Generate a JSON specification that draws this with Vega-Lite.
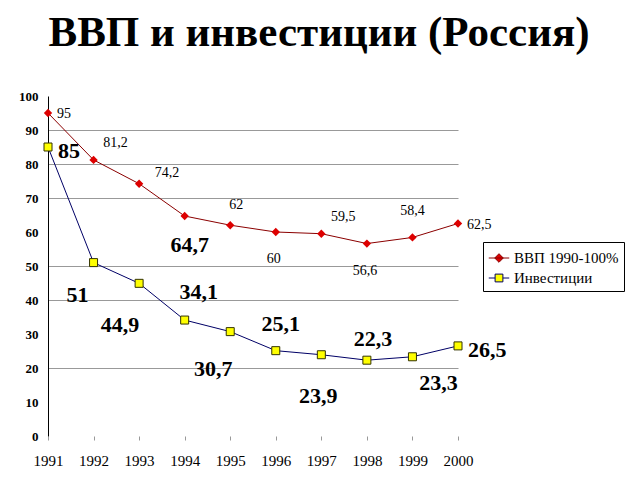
{
  "$schema": "https://vega.github.io/schema/vega-lite/v6.json",
  "autosize": "none",
  "width": 410,
  "height": 340,
  "padding": {"left": 48, "top": 96, "right": 182, "bottom": 44},
  "background": "#ffffff",
  "title": {
    "text": "ВВП и инвестиции (Россия)",
    "font": "Liberation Serif",
    "fontSize": 43,
    "fontWeight": "bold",
    "color": "#000000",
    "anchor": "middle",
    "dx": 66,
    "offset": 35
  },
  "config": {"view": {"stroke": null}, "font": "Liberation Serif"},
  "data": {
    "values": [
      {"year": 1991, "series": "ВВП 1990-100%", "value": 95, "label": "95"},
      {"year": 1992, "series": "ВВП 1990-100%", "value": 81.2, "label": "81,2"},
      {"year": 1993, "series": "ВВП 1990-100%", "value": 74.2, "label": "74,2"},
      {"year": 1994, "series": "ВВП 1990-100%", "value": 64.7, "label": "64,7"},
      {"year": 1995, "series": "ВВП 1990-100%", "value": 62, "label": "62"},
      {"year": 1996, "series": "ВВП 1990-100%", "value": 60, "label": "60"},
      {"year": 1997, "series": "ВВП 1990-100%", "value": 59.5, "label": "59,5"},
      {"year": 1998, "series": "ВВП 1990-100%", "value": 56.6, "label": "56,6"},
      {"year": 1999, "series": "ВВП 1990-100%", "value": 58.4, "label": "58,4"},
      {"year": 2000, "series": "ВВП 1990-100%", "value": 62.5, "label": "62,5"},
      {"year": 1991, "series": "Инвестиции", "value": 85, "label": "85"},
      {"year": 1992, "series": "Инвестиции", "value": 51, "label": "51"},
      {"year": 1993, "series": "Инвестиции", "value": 44.9, "label": "44,9"},
      {"year": 1994, "series": "Инвестиции", "value": 34.1, "label": "34,1"},
      {"year": 1995, "series": "Инвестиции", "value": 30.7, "label": "30,7"},
      {"year": 1996, "series": "Инвестиции", "value": 25.1, "label": "25,1"},
      {"year": 1997, "series": "Инвестиции", "value": 23.9, "label": "23,9"},
      {"year": 1998, "series": "Инвестиции", "value": 22.3, "label": "22,3"},
      {"year": 1999, "series": "Инвестиции", "value": 23.3, "label": "23,3"},
      {"year": 2000, "series": "Инвестиции", "value": 26.5, "label": "26,5"}
    ]
  },
  "encoding": {
    "x": {
      "field": "year",
      "type": "quantitative",
      "scale": {"domain": [1991, 2000], "nice": false, "zero": false},
      "axis": {
        "title": null,
        "values": [1991, 1992, 1993, 1994, 1995, 1996, 1997, 1998, 1999, 2000],
        "format": "d",
        "domain": false,
        "grid": false,
        "ticks": true,
        "tickColor": "#999999",
        "tickSize": 4,
        "labelPadding": 13,
        "labelFlush": false,
        "labelOverlap": false,
        "labelFont": "Liberation Serif",
        "labelFontSize": 15,
        "labelColor": "#000000"
      }
    },
    "y": {
      "field": "value",
      "type": "quantitative",
      "scale": {"domain": [0, 100], "nice": false},
      "axis": {
        "title": null,
        "values": [0, 10, 20, 30, 40, 50, 60, 70, 80, 90, 100],
        "domain": true,
        "domainColor": "#000000",
        "domainWidth": 1,
        "ticks": false,
        "labelPadding": 10,
        "labelFlush": false,
        "labelFont": "Liberation Serif",
        "labelFontSize": 13,
        "labelFontWeight": "bold",
        "labelColor": "#000000",
        "grid": true,
        "gridColor": "#999999",
        "gridWidth": 1,
        "gridOpacity": {"condition": {"test": "indexof([20,40,50,70,80,90], datum.value) >= 0", "value": 1}, "value": 0}
      }
    }
  },
  "layer": [
    {
      "mark": {"type": "line", "strokeWidth": 1},
      "encoding": {
        "color": {
          "field": "series",
          "type": "nominal",
          "scale": {"domain": ["ВВП 1990-100%", "Инвестиции"], "range": ["#8b0000", "#000066"]},
          "legend": {
            "orient": "none",
            "legendX": 435,
            "legendY": 146,
            "title": null,
            "strokeColor": "#000000",
            "fillColor": "#ffffff",
            "padding": 5,
            "rowPadding": 1,
            "labelFont": "Liberation Serif",
            "labelFontSize": 15,
            "labelColor": "#000000",
            "symbolSize": 420,
            "symbolType": "M-1,0H1",
            "encode": {
              "symbols": {
                "update": {
                  "shape": {"signal": "datum.value === 'Инвестиции' ? 'M-1,0H-0.38M0.38,0H1M-0.38,-0.38H0.38V0.38H-0.38Z' : 'M-1,0H1M0,-0.42L0.42,0L0,0.42L-0.42,0Z'"},
                  "fill": {"signal": "datum.value === 'Инвестиции' ? '#ffff00' : '#dd0000'"},
                  "stroke": {"signal": "datum.value === 'Инвестиции' ? '#000033' : '#cc0000'"},
                  "strokeWidth": {"value": 1},
                  "opacity": {"value": 1},
                  "fillOpacity": {"value": 1}
                }
              }
            }
          }
        }
      }
    },
    {
      "transform": [{"filter": {"field": "series", "equal": "ВВП 1990-100%"}}],
      "mark": {"type": "point", "shape": "diamond", "filled": true, "color": "#dd0000", "size": 70, "opacity": 1}
    },
    {
      "transform": [{"filter": {"field": "series", "equal": "Инвестиции"}}],
      "mark": {"type": "point", "shape": "square", "filled": true, "fill": "#ffff00", "stroke": "#333300", "strokeWidth": 1, "size": 64, "opacity": 1}
    },
    {
      "transform": [{"filter": {"and": [{"field": "series", "equal": "ВВП 1990-100%"}, {"field": "year", "oneOf": [1991, 2000]}]}}],
      "mark": {"type": "text", "align": "left", "baseline": "middle", "dx": 9, "dy": 1, "font": "Liberation Serif", "fontSize": 14, "color": "#000000"},
      "encoding": {"text": {"field": "label"}}
    },
    {
      "transform": [{"filter": {"and": [{"field": "series", "equal": "ВВП 1990-100%"}, {"field": "year", "oneOf": [1992, 1997]}]}}],
      "mark": {"type": "text", "align": "center", "baseline": "middle", "dx": 22, "dy": -17, "font": "Liberation Serif", "fontSize": 14, "color": "#000000"},
      "encoding": {"text": {"field": "label"}}
    },
    {
      "transform": [{"filter": {"and": [{"field": "series", "equal": "ВВП 1990-100%"}, {"field": "year", "oneOf": [1993]}]}}],
      "mark": {"type": "text", "align": "center", "baseline": "middle", "dx": 28, "dy": -11, "font": "Liberation Serif", "fontSize": 14, "color": "#000000"},
      "encoding": {"text": {"field": "label"}}
    },
    {
      "transform": [{"filter": {"and": [{"field": "series", "equal": "ВВП 1990-100%"}, {"field": "year", "oneOf": [1995]}]}}],
      "mark": {"type": "text", "align": "center", "baseline": "middle", "dx": 6, "dy": -20, "font": "Liberation Serif", "fontSize": 14, "color": "#000000"},
      "encoding": {"text": {"field": "label"}}
    },
    {
      "transform": [{"filter": {"and": [{"field": "series", "equal": "ВВП 1990-100%"}, {"field": "year", "oneOf": [1996, 1998]}]}}],
      "mark": {"type": "text", "align": "center", "baseline": "middle", "dx": -2, "dy": 27, "font": "Liberation Serif", "fontSize": 14, "color": "#000000"},
      "encoding": {"text": {"field": "label"}}
    },
    {
      "transform": [{"filter": {"and": [{"field": "series", "equal": "ВВП 1990-100%"}, {"field": "year", "oneOf": [1999]}]}}],
      "mark": {"type": "text", "align": "center", "baseline": "middle", "dx": 0, "dy": -26, "font": "Liberation Serif", "fontSize": 14, "color": "#000000"},
      "encoding": {"text": {"field": "label"}}
    },
    {
      "transform": [{"filter": {"and": [{"field": "series", "equal": "ВВП 1990-100%"}, {"field": "year", "oneOf": [1994]}]}}],
      "mark": {"type": "text", "align": "center", "baseline": "middle", "dx": 5, "dy": 29, "font": "Liberation Serif", "fontSize": 22, "fontWeight": "bold", "color": "#000000"},
      "encoding": {"text": {"field": "label"}}
    },
    {
      "transform": [{"filter": {"and": [{"field": "series", "equal": "Инвестиции"}, {"field": "year", "oneOf": [1991, 2000]}]}}],
      "mark": {"type": "text", "align": "left", "baseline": "middle", "dx": 10, "dy": 4, "font": "Liberation Serif", "fontSize": 22, "fontWeight": "bold", "color": "#000000"},
      "encoding": {"text": {"field": "label"}}
    },
    {
      "transform": [{"filter": {"and": [{"field": "series", "equal": "Инвестиции"}, {"field": "year", "oneOf": [1992]}]}}],
      "mark": {"type": "text", "align": "center", "baseline": "middle", "dx": -16, "dy": 32, "font": "Liberation Serif", "fontSize": 22, "fontWeight": "bold", "color": "#000000"},
      "encoding": {"text": {"field": "label"}}
    },
    {
      "transform": [{"filter": {"and": [{"field": "series", "equal": "Инвестиции"}, {"field": "year", "oneOf": [1993]}]}}],
      "mark": {"type": "text", "align": "center", "baseline": "middle", "dx": -19, "dy": 42, "font": "Liberation Serif", "fontSize": 22, "fontWeight": "bold", "color": "#000000"},
      "encoding": {"text": {"field": "label"}}
    },
    {
      "transform": [{"filter": {"and": [{"field": "series", "equal": "Инвестиции"}, {"field": "year", "oneOf": [1994]}]}}],
      "mark": {"type": "text", "align": "center", "baseline": "middle", "dx": 14, "dy": -28, "font": "Liberation Serif", "fontSize": 22, "fontWeight": "bold", "color": "#000000"},
      "encoding": {"text": {"field": "label"}}
    },
    {
      "transform": [{"filter": {"and": [{"field": "series", "equal": "Инвестиции"}, {"field": "year", "oneOf": [1995]}]}}],
      "mark": {"type": "text", "align": "center", "baseline": "middle", "dx": -17, "dy": 37, "font": "Liberation Serif", "fontSize": 22, "fontWeight": "bold", "color": "#000000"},
      "encoding": {"text": {"field": "label"}}
    },
    {
      "transform": [{"filter": {"and": [{"field": "series", "equal": "Инвестиции"}, {"field": "year", "oneOf": [1996]}]}}],
      "mark": {"type": "text", "align": "center", "baseline": "middle", "dx": 5, "dy": -27, "font": "Liberation Serif", "fontSize": 22, "fontWeight": "bold", "color": "#000000"},
      "encoding": {"text": {"field": "label"}}
    },
    {
      "transform": [{"filter": {"and": [{"field": "series", "equal": "Инвестиции"}, {"field": "year", "oneOf": [1997]}]}}],
      "mark": {"type": "text", "align": "center", "baseline": "middle", "dx": -3, "dy": 41, "font": "Liberation Serif", "fontSize": 22, "fontWeight": "bold", "color": "#000000"},
      "encoding": {"text": {"field": "label"}}
    },
    {
      "transform": [{"filter": {"and": [{"field": "series", "equal": "Инвестиции"}, {"field": "year", "oneOf": [1998]}]}}],
      "mark": {"type": "text", "align": "center", "baseline": "middle", "dx": 6, "dy": -21, "font": "Liberation Serif", "fontSize": 22, "fontWeight": "bold", "color": "#000000"},
      "encoding": {"text": {"field": "label"}}
    },
    {
      "transform": [{"filter": {"and": [{"field": "series", "equal": "Инвестиции"}, {"field": "year", "oneOf": [1999]}]}}],
      "mark": {"type": "text", "align": "center", "baseline": "middle", "dx": 26, "dy": 26, "font": "Liberation Serif", "fontSize": 22, "fontWeight": "bold", "color": "#000000"},
      "encoding": {"text": {"field": "label"}}
    }
  ]
}
